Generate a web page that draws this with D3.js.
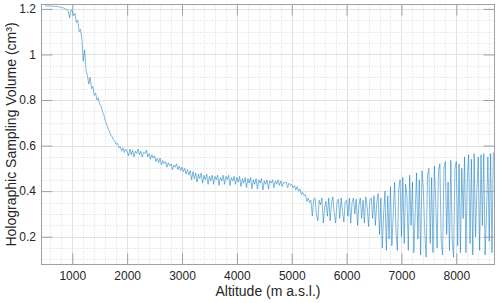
<!DOCTYPE html>
<html><head><meta charset="utf-8">
<script src="https://cdn.jsdelivr.net/npm/d3@7"></script>
<style>body{margin:0;background:#fff}svg{display:block}</style>
</head><body><svg id="c" width="500" height="303"></svg>
<script>
// altitude of first sample (m a.s.l.) and sampling step (m)
const altStart = 500, altStep = 25;
// Holographic sampling volume (cm^3), per altitude band
const vol500 = [1.213,1.213,1.213,1.213,1.212,1.212,1.212,1.211,1.211,1.210,1.209,1.208,1.207,1.205,1.203,1.200,1.197,1.193,1.160,1.195];
const vol1000 = [1.19,1.17,1.18,1.14,1.15,1.10,1.11,1.07,0.97,1.02,0.93,0.91,0.87,0.90,0.85,0.86,0.82,0.83,0.80,0.81,
  0.78,0.775,0.75,0.735,0.71,0.695,0.675,0.665,0.645,0.64,0.625,0.62,0.605,0.61,0.59,0.595,0.575,0.59,0.57,0.585];
const vol2000 = [0.575,0.555,0.585,0.56,0.58,0.55,0.575,0.565,0.585,0.56,0.575,0.55,0.57,0.565,0.58,0.55,0.565,0.54,0.56,0.545,
  0.555,0.53,0.545,0.525,0.545,0.515,0.535,0.52,0.53,0.505,0.525,0.51,0.52,0.495,0.515,0.505,0.52,0.495,0.51,0.49];
const vol3000 = [0.505,0.485,0.50,0.475,0.495,0.47,0.49,0.45,0.485,0.455,0.48,0.44,0.475,0.455,0.48,0.435,0.47,0.45,0.475,0.43,
  0.465,0.445,0.47,0.43,0.465,0.45,0.47,0.425,0.46,0.445,0.47,0.43,0.465,0.45,0.47,0.425,0.46,0.445,0.465,0.43];
const vol4000 = [0.46,0.44,0.465,0.42,0.455,0.435,0.46,0.415,0.455,0.435,0.46,0.41,0.45,0.43,0.455,0.41,0.45,0.435,0.455,0.405,
  0.445,0.43,0.45,0.41,0.445,0.435,0.45,0.415,0.445,0.43,0.45,0.425,0.445,0.42,0.44,0.435,0.44,0.415,0.435,0.425];
const vol5000 = [0.43,0.415,0.425,0.405,0.42,0.40,0.41,0.385,0.395,0.38,0.385,0.355,0.37,0.35,0.36,0.29,0.365,0.37,0.30,0.27,
  0.36,0.34,0.37,0.26,0.33,0.355,0.29,0.37,0.27,0.35,0.375,0.30,0.26,0.35,0.365,0.28,0.37,0.31,0.265,0.355];
const vol6000 = [0.36,0.29,0.37,0.26,0.35,0.37,0.30,0.365,0.25,0.34,0.37,0.28,0.36,0.26,0.375,0.33,0.245,0.36,0.37,0.28,
  0.38,0.25,0.35,0.39,0.21,0.37,0.15,0.30,0.40,0.14,0.38,0.19,0.42,0.16,0.30,0.44,0.23,0.14,0.41,0.45];
const vol7000 = [0.20,0.46,0.17,0.43,0.38,0.14,0.47,0.25,0.44,0.13,0.30,0.48,0.19,0.45,0.12,0.49,0.40,0.22,0.11,0.47,
  0.50,0.17,0.46,0.13,0.51,0.35,0.15,0.49,0.52,0.18,0.12,0.50,0.53,0.21,0.44,0.14,0.535,0.19,0.11,0.50];
const vol8000 = [0.53,0.16,0.52,0.13,0.50,0.28,0.55,0.13,0.45,0.56,0.17,0.54,0.12,0.565,0.20,0.40,0.55,0.14,0.56,0.25,
  0.565,0.12,0.30,0.55,0.18,0.565,0.13,0.57];

const xTicks = [1000,2000,3000,4000,5000,6000,7000,8000];
const yTicks = [0.2,0.4,0.6,0.8,1,1.2];
const yTickLabels = ["0.2","0.4","0.6","0.8","1","1.2"];
const xLabel = "Altitude (m a.s.l.)";
const yLabel = "Holographic Sampling Volume (cm³)";

const volume = [].concat(vol500, vol1000, vol2000, vol3000, vol4000, vol5000, vol6000, vol7000, vol8000);
const data = volume.map((v, i) => ({alt: altStart + i * altStep, v}));

const L = 41.5, R = 494.5, T = 4.5, B = 264.5;
const x = d3.scaleLinear().domain([439, 8696]).range([L, R]);
const y = d3.scaleLinear().domain([0.078, 1.2193]).range([B, T]);
const svg = d3.select("#c");
const font = "'Liberation Sans', Arial, Helvetica, sans-serif";

// minor grid
const minorX = d3.range(600, 8700, 200).filter(d => d % 1000 !== 0);
const minorY = d3.range(0.1, 1.2, 0.05).filter(d => Math.abs(d / 0.2 - Math.round(d / 0.2)) > 0.01);
const g = svg.append("g");
g.selectAll(".mx").data(minorX).join("line")
  .attr("x1", d => Math.round(x(d)) + 0.5).attr("x2", d => Math.round(x(d)) + 0.5)
  .attr("y1", T).attr("y2", B).attr("stroke", "#d8d8d8").attr("stroke-dasharray", "1,2");
g.selectAll(".my").data(minorY).join("line")
  .attr("y1", d => Math.round(y(d)) + 0.5).attr("y2", d => Math.round(y(d)) + 0.5)
  .attr("x1", L).attr("x2", R).attr("stroke", "#d8d8d8").attr("stroke-dasharray", "1,2");
// major grid
g.selectAll(".Mx").data(xTicks).join("line")
  .attr("x1", d => Math.round(x(d)) + 0.5).attr("x2", d => Math.round(x(d)) + 0.5)
  .attr("y1", T).attr("y2", B).attr("stroke", "#e2e2e2");
g.selectAll(".My").data(yTicks).join("line")
  .attr("y1", d => Math.round(y(d)) + 0.5).attr("y2", d => Math.round(y(d)) + 0.5)
  .attr("x1", L).attr("x2", R).attr("stroke", "#e2e2e2");

// data line
const line = d3.line().x(d => x(d.alt)).y(d => y(d.v));
svg.append("path").datum(data).attr("d", line)
  .attr("fill", "none").attr("stroke", "#0072BD").attr("stroke-width", 0.5);

// axes
const axCol = "#a0a0a0", txtCol = "#262626";
function style(sel) {
  sel.select(".domain").remove();
  sel.selectAll(".tick line").attr("stroke", axCol);
  sel.selectAll(".tick text").attr("fill", txtCol).style("font-family", font).style("font-size", "12px");
}
svg.append("g").attr("transform", `translate(0,${B})`)
  .call(d3.axisBottom(x).tickValues(xTicks).tickFormat(d3.format("d")).tickSize(-11).tickPadding(7)).call(style);
svg.append("g").attr("transform", `translate(0,${T})`)
  .call(d3.axisTop(x).tickValues(xTicks).tickFormat("").tickSize(-11)).call(style);
svg.append("g").attr("transform", `translate(${L},0)`)
  .call(d3.axisLeft(y).tickValues(yTicks).tickFormat((d, i) => yTickLabels[i]).tickSize(-11).tickPadding(5.5)).call(style);
svg.append("g").attr("transform", `translate(${R},0)`)
  .call(d3.axisRight(y).tickValues(yTicks).tickFormat("").tickSize(-11)).call(style);

svg.append("rect").attr("x", L).attr("y", T).attr("width", R - L).attr("height", B - T)
  .attr("fill", "none").attr("stroke", axCol);

svg.append("text").attr("x", (L + R) / 2).attr("y", 296).attr("text-anchor", "middle")
  .style("font-family", font).style("font-size", "14px").attr("fill", txtCol).text(xLabel);
svg.append("text").attr("transform", `translate(16,${(T + B) / 2}) rotate(-90)`).attr("text-anchor", "middle")
  .style("font-family", font).style("font-size", "14px").attr("fill", txtCol).text(yLabel);
</script></body></html>
